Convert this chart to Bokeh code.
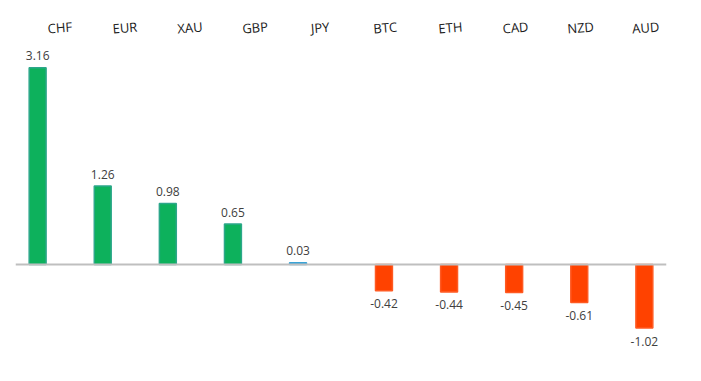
from bokeh.plotting import figure
from bokeh.models import ColumnDataSource, FactorRange, Span
from bokeh.transform import dodge
from bokeh.core.properties import value
from bokeh.embed import file_html
from bokeh.resources import INLINE

categories = ["CHF", "EUR", "XAU", "GBP", "JPY", "BTC", "ETH", "CAD", "NZD", "AUD"]
values = [3.16, 1.26, 0.98, 0.65, 0.03, -0.42, -0.44, -0.45, -0.61, -1.02]
value_labels = ["3.16", "1.26", "0.98", "0.65", "0.03", "-0.42", "-0.44", "-0.45", "-0.61", "-1.02"]

pos_cats = [c for c, v in zip(categories, values) if v >= 0]
pos_vals = [v for v in values if v >= 0]
pos_labels = [l for l, v in zip(value_labels, values) if v >= 0]
neg_cats = [c for c, v in zip(categories, values) if v < 0]
neg_vals = [v for v in values if v < 0]
neg_labels = [l for l, v in zip(value_labels, values) if v < 0]

pos_fill = ["#3AA3D6" if v < 0.1 else "#0DB15C" for v in pos_vals]
pos_line = ["#3AA3D6" if v < 0.1 else "#2DA78A" for v in pos_vals]

W, H = 685, 365
TOP, LEFT, RIGHT = 8, 15, 19
frame_h = H - TOP
px_per_unit = 62.3
y_end = 256 / px_per_unit
y_start = -(frame_h - 256) / px_per_unit

p = figure(width=W, height=H, x_range=FactorRange(*categories, range_padding=0),
           y_range=(y_start, y_end), output_backend="svg", toolbar_location=None,
           min_border_left=LEFT, min_border_right=RIGHT, min_border_top=TOP, min_border_bottom=0)
p.axis.visible = False
p.grid.visible = False
p.outline_line_color = None
p.background_fill_color = "white"

src_pos = ColumnDataSource(dict(x=pos_cats, top=pos_vals, lab=pos_labels, fill=pos_fill, line=pos_line))
src_neg = ColumnDataSource(dict(x=neg_cats, top=neg_vals, lab=neg_labels))

p.vbar(x=dodge("x", -0.16, range=p.x_range), top="top", bottom=0, width=0.26, source=src_pos,
       fill_color="fill", line_color="line", line_width=1.5)
p.vbar(x=dodge("x", 0.16, range=p.x_range), top="top", bottom=0, width=0.26, source=src_neg,
       fill_color="#FF4200", line_color="#FF5A22", line_width=1.5)

zero = Span(location=0, dimension="width", line_color="#BFBFBF", line_width=2)
p.add_layout(zero)

p.text(x=dodge("x", -0.16, range=p.x_range), y="top", text="lab", source=src_pos,
       text_font=value("Open Sans"), text_font_size="12px", text_color="#404040",
       text_align="center", text_baseline="middle", y_offset=-12)
p.text(x=dodge("x", 0.16, range=p.x_range), y="top", text="lab", source=src_neg,
       text_font=value("Open Sans"), text_font_size="12px", text_color="#404040",
       text_align="center", text_baseline="middle", y_offset=13)

label_y = y_end - 19 / px_per_unit
src_cat = ColumnDataSource(dict(x=categories, y=[label_y] * len(categories), t=categories))
p.text(x=dodge("x", 0.18, range=p.x_range), y="y", text="t", source=src_cat,
       text_font=value("Open Sans"), text_font_size="13px", text_color="#1A1A1A",
       text_align="center", text_baseline="middle", angle=0.08)

open("out.html", "w").write(file_html(p, INLINE))
